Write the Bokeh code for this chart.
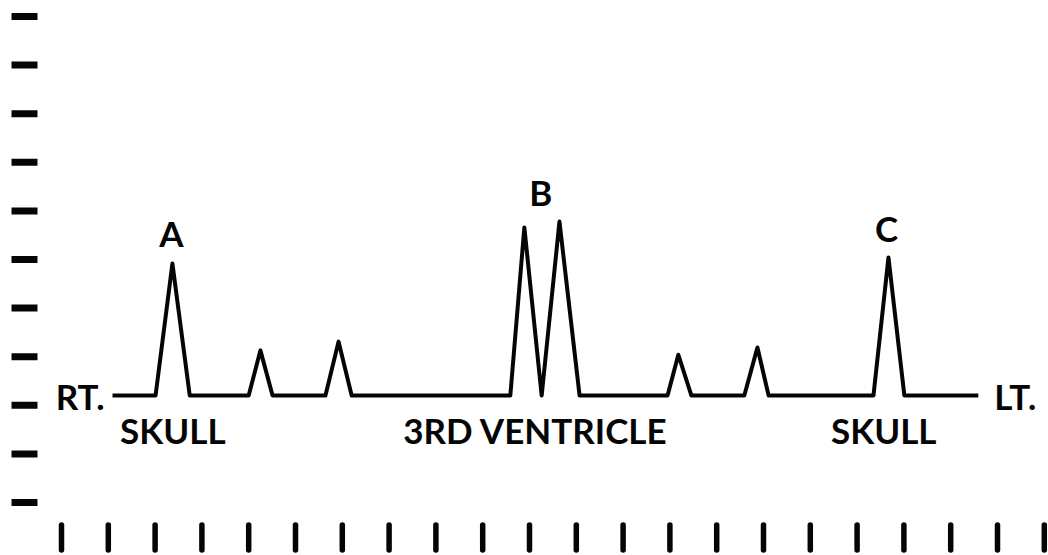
from bokeh.plotting import figure
from bokeh.models import Range1d
from bokeh.core.properties import value
from bokeh.embed import file_html
from bokeh.resources import INLINE

# ---------------- data ----------------
# bottom distance scale ticks and left amplitude scale dashes
distance_ticks = list(range(22))
amplitude_ticks = list(range(11))

# echo trace: position along the scan and echo amplitude above the baseline
baseline_level = 2.20
trace_x = [1.09, 2.01, 2.37, 2.74, 4.00, 4.25, 4.51, 5.64, 5.92, 6.20,
           9.59, 9.89, 10.26, 10.64, 11.07, 12.95, 13.18, 13.46,
           14.59, 14.87, 15.11, 17.35, 17.67, 18.01, 19.59]
trace_amp = [0, 0, 2.72, 0, 0, 0.93, 0, 0, 1.11, 0,
             0, 3.46, 0, 3.58, 0, 0, 0.84, 0,
             0, 0.99, 0, 0, 2.84, 0, 0]

peak_labels = ["A", "B", "C"]
peak_label_x = [2.35, 10.24, 17.63]
peak_label_amp = [2.72, 3.58, 2.84]

structure_labels = ["SKULL", "3RD VENTRICLE", "SKULL"]
structure_x = [2.38, 10.13, 17.57]

side_labels = ["RT.", "LT."]
side_x = [1.09, 19.59]

# ---------------- figure ----------------
FONT = value("Lato")
SIZE = "35px"
INK = "#050505"

p = figure(width=1048, height=555, output_backend="svg", toolbar_location=None,
           x_range=Range1d(-1.3034, 21.0897), y_range=Range1d(-1.0905, 10.3292),
           min_border=0, x_axis_location=None, y_axis_location=None)
p.grid.visible = False
p.outline_line_color = None
p.background_fill_color = "white"
p.border_fill_color = "white"

# left amplitude scale (short horizontal dashes)
n_a = len(amplitude_ticks)
p.segment(x0=[-1.068] * n_a, x1=[-0.513] * n_a,
          y0=amplitude_ticks, y1=amplitude_ticks,
          line_color=INK, line_width=7, line_cap="butt")

# bottom distance scale (short vertical bars)
n_d = len(distance_ticks)
p.segment(x0=distance_ticks, x1=distance_ticks,
          y0=[-0.463] * n_d, y1=[-0.977] * n_d,
          line_color=INK, line_width=5.5, line_cap="round")

# echo trace
trace_y = [baseline_level + a for a in trace_amp]
p.line(trace_x, trace_y, line_color=INK, line_width=4, line_join="round")

# peak labels above the echoes
p.text(x=peak_label_x, y=[baseline_level + a for a in peak_label_amp], text=peak_labels,
       text_font=FONT, text_font_style="bold", text_font_size=SIZE,
       text_align="center", text_baseline="middle", y_offset=-30, text_color=INK)

# structure labels below the baseline
p.text(x=structure_x, y=[baseline_level] * len(structure_x), text=structure_labels,
       text_font=FONT, text_font_style="bold", text_font_size=SIZE,
       text_align="center", text_baseline="middle", y_offset=34, text_color=INK)

# side labels
p.text(x=[side_x[0]], y=[baseline_level], text=[side_labels[0]],
       text_font=FONT, text_font_style="bold", text_font_size=SIZE,
       text_align="right", text_baseline="middle", x_offset=-8, text_color=INK)
p.text(x=[side_x[1]], y=[baseline_level], text=[side_labels[1]],
       text_font=FONT, text_font_style="bold", text_font_size=SIZE,
       text_align="left", text_baseline="middle", x_offset=16, text_color=INK)

open("out.html", "w").write(file_html(p, INLINE))
